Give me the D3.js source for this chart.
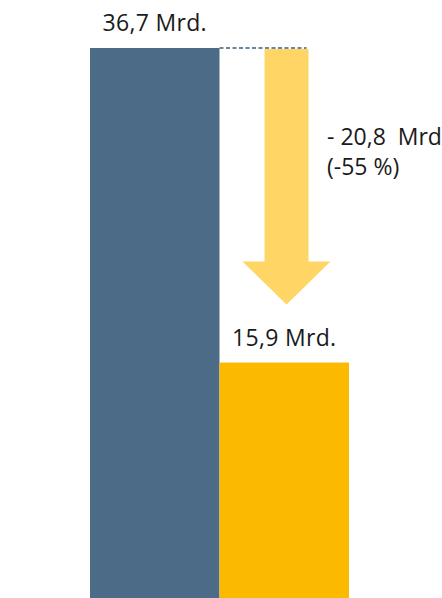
<!DOCTYPE html>
<html>
<head>
<meta charset="utf-8">
<script src="https://cdn.jsdelivr.net/npm/d3@7/dist/d3.min.js"></script>
<style>
  html, body { margin: 0; padding: 0; background: #fff; overflow: hidden; }
  svg { display: block; }
  text { font-family: "Open Sans", "Noto Sans", sans-serif; fill: #1a1a1a; white-space: pre; }
</style>
</head>
<body>
<script>
// Two periods compared, values in Mrd.
const categories = ["Vorher", "Nachher"];
const values = [36.7, 15.9];
const valueLabels = ["36,7 Mrd.", "15,9 Mrd."];
const changeLabels = ["- 20,8  Mrd.", "(-55 %)"];
const barColors = ["#4b6b87", "#fbb900"];

const W = 442, H = 598;
const svg = d3.select("body").append("svg").attr("width", W).attr("height", H);

const x = d3.scaleBand().domain(categories).range([90, 349]).padding(0);
const y = d3.scaleLinear().domain([0, d3.max(values)]).range([603, 48]);

// bars
svg.selectAll("rect.bar").data(values).join("rect")
  .attr("class", "bar")
  .attr("x", (d, i) => x(categories[i]))
  .attr("y", d => y(d))
  .attr("width", x.bandwidth())
  .attr("height", d => y(0) - y(d))
  .attr("fill", (d, i) => barColors[i]);

// value labels above bars
svg.selectAll("text.val").data(values).join("text")
  .attr("class", "val")
  .attr("x", (d, i) => x(categories[i]) + x.bandwidth() / 2)
  .attr("y", d => y(d) - 17)
  .attr("text-anchor", "middle")
  .attr("font-size", 23)
  .attr("letter-spacing", 0.3)
  .text((d, i) => valueLabels[i]);

// dashed reference line at the first bar's level
const x1 = x(categories[1]);
svg.append("line")
  .attr("x1", x1).attr("x2", x1 + 87)
  .attr("y1", y(values[0])).attr("y2", y(values[0]))
  .attr("stroke", "#3f5f7c")
  .attr("stroke-width", 1.6)
  .attr("stroke-dasharray", "4,2.5");

// downward arrow showing the decrease
const cx = x1 + 67;
const shaftHalf = 22, headHalf = 44;
const arrowTop = y(values[0]) + 1;
const arrowTip = y(values[1]) - 58;
const headBase = arrowTip - 43;
svg.append("path")
  .attr("d", d3.line()([
    [cx - shaftHalf, arrowTop], [cx + shaftHalf, arrowTop], [cx + shaftHalf, headBase],
    [cx + headHalf, headBase], [cx, arrowTip], [cx - headHalf, headBase],
    [cx - shaftHalf, headBase]
  ]) + "Z")
  .attr("fill", "#ffd565");

// change annotation
svg.selectAll("text.chg").data(changeLabels).join("text")
  .attr("class", "chg")
  .attr("x", 327)
  .attr("y", (d, i) => 145 + i * 30)
  .attr("font-size", 23)
  .text(d => d);
</script>
</body>
</html>
